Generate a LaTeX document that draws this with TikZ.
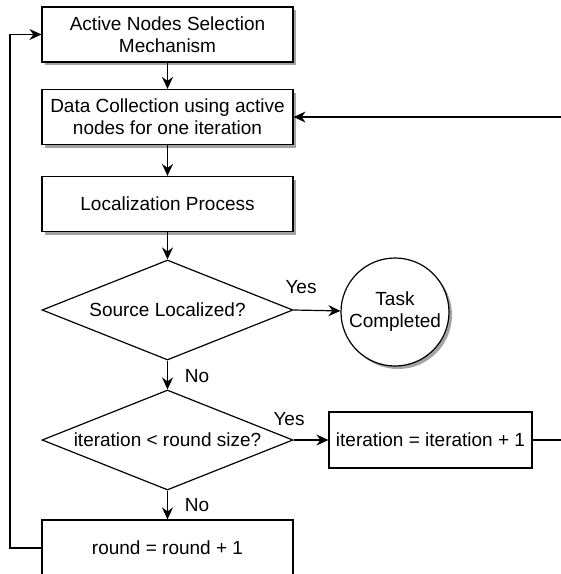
\documentclass[tikz,border=0pt]{standalone}
\usepackage{fontspec}
\setmainfont{Liberation Sans}
\usetikzlibrary{shapes.geometric,arrows.meta,positioning,shadows}

\begin{document}
\begin{tikzpicture}[x=1pt,y=-1pt,
  every node/.style={font=\fontsize{19}{22}\selectfont},
  box/.style={rectangle,draw,line width=1.2pt,minimum width=251pt,minimum height=55pt,align=center,fill=white},
  shade/.style={drop shadow={shadow xshift=3pt,shadow yshift=-3pt,fill=black!60,opacity=0.6}},
  dec/.style={diamond,draw,line width=1.2pt,minimum width=251pt,minimum height=100pt,inner sep=0pt,aspect=2.5,align=center},
  term/.style={circle,draw,line width=1.2pt,minimum size=108pt,inner sep=0pt,align=center,fill=white},
  lbl/.style={inner sep=1pt},
  flow/.style={line width=1.2pt,-{Stealth[length=12pt,width=11pt,inset=4pt]}}
]
  \useasboundingbox (0,0) rectangle (561,574);
  \node[box,shade] (sel)  at (167.5,34.5) {Active Nodes Selection\\Mechanism};
  \node[box,shade] (coll) at (167.5,117)  {Data Collection using active\\nodes for one iteration};
  \node[box,shade] (loc)  at (167.5,204)  {Localization Process};
  \node[dec]       (src)  at (167.5,310)  {Source Localized?};
  \node[term,shade] (done) at (395,312)   {Task\\Completed};
  \node[dec]       (iter) at (167.5,440)  {iteration < round size?};
  \node[box,minimum width=203pt,minimum height=56pt] (inc) at (430.5,440) {iteration = iteration + 1};
  \node[box,minimum height=56pt] (rnd) at (167.5,548) {round = round + 1};
  \node[lbl] (yes1) at (301,287) {Yes};
  \node[lbl] (no1)  at (197,376) {No};
  \node[lbl] (yes2) at (289,419) {Yes};
  \node[lbl] (no2)  at (197,505) {No};
  \coordinate (rt) at (563,440);
  \coordinate (lf) at (10,548);
  \draw[flow] (sel) -- (coll);
  \draw[flow] (coll) -- (loc);
  \draw[flow] (loc) -- (src);
  \draw[flow] (src.east) -- (done);
  \draw[flow] (src) -- (iter);
  \draw[flow] (iter.east) -- (inc);
  \draw[flow] (iter) -- (rnd);
  \draw[flow] (inc.east) -- (rt) |- (coll.east);
  \draw[flow] (rnd.west) -- (lf) |- (sel.west);
\end{tikzpicture}
\end{document}
